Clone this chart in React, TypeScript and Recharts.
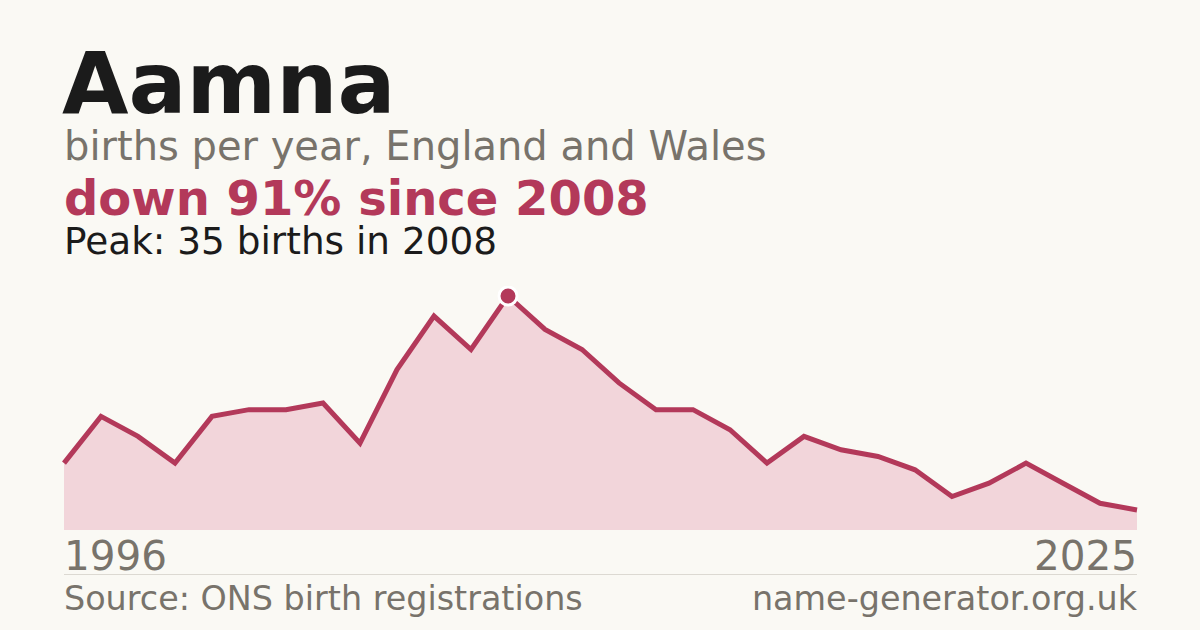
import { AreaChart, Area, XAxis, YAxis, ReferenceDot } from 'recharts';

const YEARS = [
    1996, 1997, 1998, 1999, 2000, 2001, 2002, 2003, 2004, 2005,
    2006, 2007, 2008, 2009, 2010, 2011, 2012, 2013, 2014, 2015,
    2016, 2017, 2018, 2019, 2020, 2021, 2022, 2023, 2024, 2025,
];

const BIRTHS = [
    10, 17, 14, 10, 17, 18, 18, 19, 13, 24,
    32, 27, 35, 30, 27, 22, 18, 18, 15, 10,
    14, 12, 11, 9, 5, 7, 10, 7, 4, 3,
];

const NAME = 'Aamna';
const SUBTITLE = 'births per year, England and Wales';
const CHANGE_TEXT = 'down 91% since 2008';
const PEAK_TEXT = 'Peak: 35 births in 2008';
const SOURCE = 'Source: ONS birth registrations';
const SITE = 'name-generator.org.uk';

const CRIMSON = '#b3395a';
const FILL = '#f2d5da';
const GREY = '#78736b';
const BG = '#faf9f4';
const FONT = '"DejaVu Sans", sans-serif';

export default function App() {
    const data = YEARS.map((year, i) => ({ year, births: BIRTHS[i] }));
    const peak = Math.max(...BIRTHS);
    const peakYear = YEARS[BIRTHS.indexOf(peak)];

    return (
        <div style={{ position: 'absolute', left: 0, top: 0, width: 1200, height: 630, background: BG, overflow: 'hidden' }}>
            <svg width={1200} height={630} style={{ position: 'absolute', left: 0, top: 0 }} fontFamily={FONT}>
                <text x={62} y={113} fontSize={86} fontWeight={700} fill="#1b1b1b">{NAME}</text>
                <text x={64} y={160} fontSize={40} fill={GREY}>{SUBTITLE}</text>
                <text x={64} y={215} fontSize={48} fontWeight={700} fill={CRIMSON}>{CHANGE_TEXT}</text>
                <text x={64} y={254} fontSize={37.4} fill="#1b1b1b">{PEAK_TEXT}</text>
                <text x={64} y={570} fontSize={40.5} fill={GREY}>{YEARS[0]}</text>
                <text x={1137} y={570} fontSize={40.5} fill={GREY} textAnchor="end">{YEARS[YEARS.length - 1]}</text>
                <line x1={64} x2={1137} y1={574.5} y2={574.5} stroke="#dcd9d2" strokeWidth={1} />
                <text x={64} y={610} fontSize={33.4} fill={GREY}>{SOURCE}</text>
                <text x={1137} y={610} fontSize={33.4} fill={GREY} textAnchor="end">{SITE}</text>
            </svg>
            <div style={{ position: 'absolute', left: 54, top: 286 }}>
                <AreaChart width={1093} height={244} data={data} margin={{ top: 10, right: 10, bottom: 0, left: 10 }}>
                    <XAxis dataKey="year" hide />
                    <YAxis hide domain={[0, peak]} />
                    <Area
                        type="linear"
                        dataKey="births"
                        stroke={CRIMSON}
                        strokeWidth={5}
                        strokeLinejoin="miter"
                        fill={FILL}
                        fillOpacity={1}
                        dot={false}
                        activeDot={false}
                        isAnimationActive={false}
                    />
                    {/* peak marker */}
                    <ReferenceDot
                        x={peakYear}
                        y={peak}
                        r={9}
                        fill={CRIMSON}
                        stroke="#ffffff"
                        strokeWidth={3}
                        ifOverflow="visible"
                    />
                </AreaChart>
            </div>
        </div>
    );
}
